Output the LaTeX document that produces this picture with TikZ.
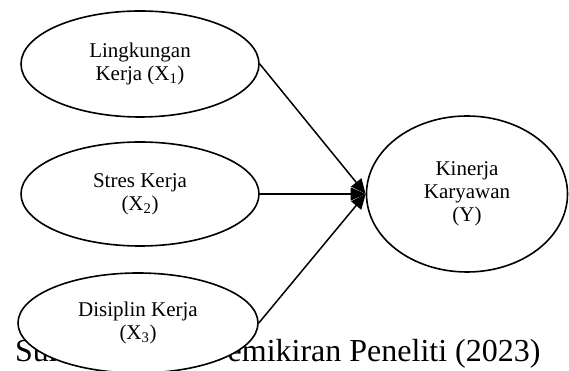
\documentclass[tikz,border=0pt]{standalone}
\usepackage{fontspec}
\setmainfont{Liberation Serif}
\usetikzlibrary{shapes.geometric}
\usetikzlibrary{arrows.meta}

\begin{document}
\begin{tikzpicture}[x=1pt,y=1pt]
\useasboundingbox (0,0) rectangle (569,371);
\tikzset{var/.style={ellipse,draw=black,line width=1.6pt,fill=white,inner sep=0pt,align=center,font=\fontsize{21}{23}\selectfont},
         panah/.style={line width=1.5pt,-{Triangle[length=15pt,width=13pt]}}}
% caption (partly hidden behind the lower ellipse)
\node[anchor=base west,inner sep=0pt,font=\fontsize{32}{38}\selectfont] (sumber) at (15,9) {Sumber: Hasil Pemikiran Peneliti (2023)};

\node[var,minimum width=238,minimum height=106] (lingkungan) at (140,307) {Lingkungan\\Kerja (X\textsubscript{1})};
\node[var,minimum width=238,minimum height=104] (stres) at (140,177) {Stres Kerja\\(X\textsubscript{2})};
\node[var,minimum width=240,minimum height=100] (disiplin) at (138,48) {Disiplin Kerja\\(X\textsubscript{3})};
\node[var,minimum width=201,minimum height=156] (kinerja) at (467,177) {Kinerja\\Karyawan\\(Y)};

\draw[panah] (lingkungan.east) -- (kinerja.west);
\draw[panah] (stres.east) -- (kinerja.west);
\draw[panah] (disiplin.east) -- (kinerja.west);

\end{tikzpicture}
\end{document}
